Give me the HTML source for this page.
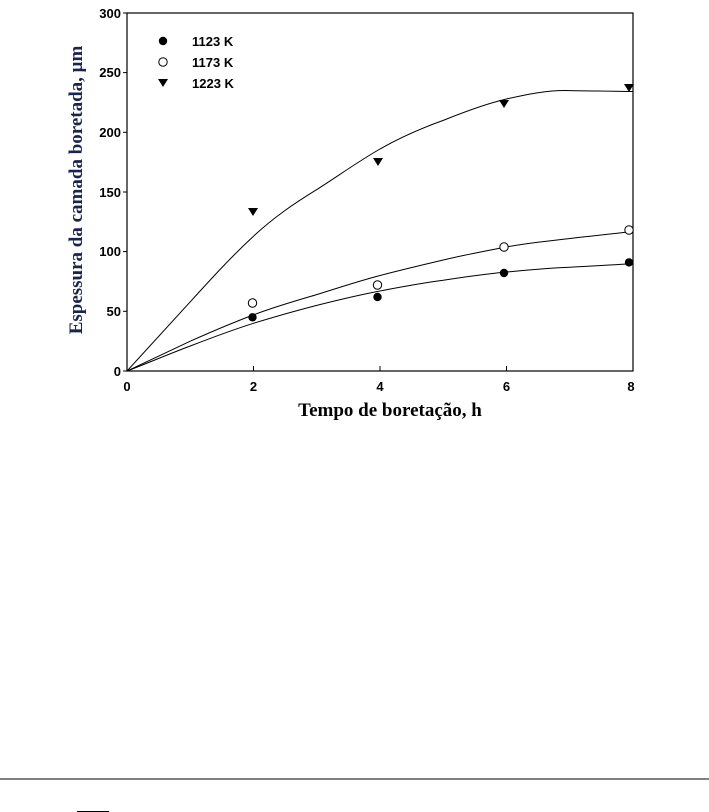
<!DOCTYPE html>
<html><head><meta charset="utf-8"><style>
html,body{margin:0;padding:0;background:#fff;width:709px;height:812px;overflow:hidden}
</style></head><body>
<svg width="709" height="812" viewBox="0 0 709 812" xmlns="http://www.w3.org/2000/svg">
<rect x="127" y="13" width="506" height="358" fill="none" stroke="#000" stroke-width="1.2"/>
<g stroke="#000" stroke-width="1">
<line x1="123" y1="371" x2="127" y2="371"/><line x1="123" y1="311.3" x2="127" y2="311.3"/><line x1="123" y1="251.6" x2="127" y2="251.6"/><line x1="123" y1="192" x2="127" y2="192"/><line x1="123" y1="132.3" x2="127" y2="132.3"/><line x1="123" y1="72.6" x2="127" y2="72.6"/><line x1="123" y1="13" x2="127" y2="13"/>
<line x1="253.5" y1="371" x2="253.5" y2="366"/><line x1="380" y1="371" x2="380" y2="366"/><line x1="506.5" y1="371" x2="506.5" y2="366"/>
</g>
<g font-family="Liberation Sans, Arial, sans-serif" font-weight="bold" font-size="13" text-anchor="end">
<text x="121" y="376">0</text><text x="121" y="316">50</text><text x="121" y="256">100</text><text x="121" y="197">150</text><text x="121" y="137">200</text><text x="121" y="77">250</text><text x="121" y="18">300</text>
</g>
<g font-family="Liberation Sans, Arial, sans-serif" font-weight="bold" font-size="13" text-anchor="middle">
<text x="127" y="391">0</text><text x="253.5" y="391">2</text><text x="380" y="391">4</text><text x="506.5" y="391">6</text><text x="631" y="391">8</text>
</g>
<text x="390" y="416" font-family="Liberation Serif, serif" font-weight="bold" font-size="19" text-anchor="middle">Tempo de boretação, h</text>
<text transform="translate(82,190) rotate(-90)" font-family="Liberation Serif, serif" font-weight="bold" font-size="19" fill="#1a2450" text-anchor="middle">Espessura da camada boretada, μm</text>
<g fill="none" stroke="#000" stroke-width="1">
<path d="M127,371 C148,348 169,325 190.25,301.8 C211,279 232,256 253.5,236.2 C274,217 295,203 316.75,189.6 C338,176 359,161 380,149 C401,137 422,128 443.25,120.4 C464,112 485,104 506.5,99 C528,94 548,90 569.75,90.6 C591,91 612,91 633,91.5"/>
<path d="M127,371 C148,361 169,351 190.25,341.2 C211,332 232,323 253.5,314.9 C274,307 295,301 316.75,294.6 C338,288 359,281 380,275.5 C401,270 422,265 443.25,260 C464,255 485,251 506.5,246.9 C528,243 548,241 569.75,238.5 C591,236 612,234 633,231.4"/>
<path d="M127,371 C148,363 169,354 190.25,346 C211,338 232,330 253.5,323.3 C274,317 295,311 316.75,305.4 C338,300 359,295 380,291 C401,287 422,283 443.25,280.3 C464,277 485,274 506.5,272 C528,270 548,268 569.75,267.2 C591,266 612,265 633,263.6"/>
</g>
<g fill="#000">
<circle cx="252.5" cy="317.3" r="4.2"/><circle cx="377.5" cy="297" r="4.2"/><circle cx="504" cy="273" r="4.2"/><circle cx="629" cy="262.4" r="4.2"/>
<circle cx="163" cy="41" r="4.2"/>
</g>
<g fill="#fff" stroke="#000" stroke-width="1">
<circle cx="252.5" cy="303" r="4.2"/><circle cx="377.5" cy="285" r="4.2"/><circle cx="504" cy="247" r="4.2"/><circle cx="629" cy="230" r="4.2"/>
<circle cx="163" cy="62" r="4.2"/>
</g>
<g fill="#000">
<polygon points="248,208 258,208 253,216"/><polygon points="373,158 383,158 378,166"/><polygon points="499,100 509,100 504,108"/><polygon points="624,84 634,84 629,92"/>
<polygon points="158,79 168,79 163,87"/>
</g>
<g font-family="Liberation Sans, Arial, sans-serif" font-weight="bold" font-size="13">
<text x="192" y="46">1123 K</text><text x="192" y="67">1173 K</text><text x="192" y="88">1223 K</text>
</g>
<line x1="0" y1="779" x2="709" y2="779" stroke="#000" stroke-width="1"/>
<line x1="77" y1="811.5" x2="109" y2="811.5" stroke="#000" stroke-width="1"/>
</svg>
</body></html>
